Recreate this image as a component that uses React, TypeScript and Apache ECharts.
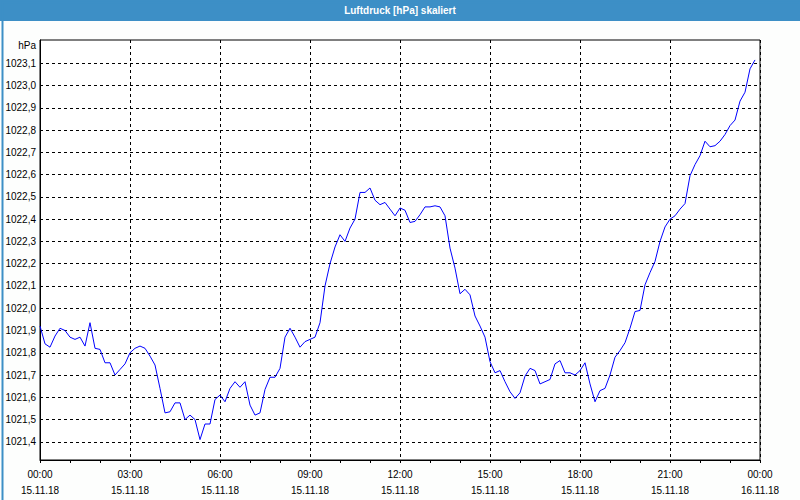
import React, { useEffect, useRef } from "react";
import * as echarts from "echarts";

const chartTitle = "Luftdruck [hPa] skaliert";
const yUnit = "hPa";
const xTimeLabels = ["00:00", "03:00", "06:00", "09:00", "12:00", "15:00", "18:00", "21:00", "00:00"];
const xDateLabels = ["15.11.18", "15.11.18", "15.11.18", "15.11.18", "15.11.18", "15.11.18", "15.11.18", "15.11.18", "16.11.18"];
const yTickValues = [1021.4, 1021.5, 1021.6, 1021.7, 1021.8, 1021.9, 1022.0, 1022.1, 1022.2, 1022.3, 1022.4, 1022.5, 1022.6, 1022.7, 1022.8, 1022.9, 1023.0, 1023.1];
const stepMinutes = 10;
// pressure readings every 10 minutes, 00:00 .. 23:50
const pressure = [
  1021.92, 1021.84, 1021.825, 1021.875, 1021.91, 1021.9,
  1021.87, 1021.86, 1021.87, 1021.83, 1021.935, 1021.82,
  1021.815, 1021.755, 1021.755, 1021.7, 1021.725, 1021.75,
  1021.8, 1021.82, 1021.83, 1021.82, 1021.785, 1021.745,
  1021.64, 1021.53, 1021.535, 1021.575, 1021.575, 1021.5,
  1021.52, 1021.5, 1021.41, 1021.48, 1021.48, 1021.59,
  1021.61, 1021.58, 1021.64, 1021.67, 1021.645, 1021.67,
  1021.565, 1021.52, 1021.53, 1021.635, 1021.69, 1021.69,
  1021.73, 1021.87, 1021.91, 1021.87, 1021.825, 1021.85,
  1021.86, 1021.87, 1021.935, 1022.1, 1022.2, 1022.275,
  1022.33, 1022.3, 1022.36, 1022.4, 1022.52, 1022.52,
  1022.54, 1022.485, 1022.465, 1022.475, 1022.445, 1022.415,
  1022.45, 1022.44, 1022.385, 1022.39, 1022.42, 1022.455,
  1022.455, 1022.46, 1022.455, 1022.415, 1022.27, 1022.18,
  1022.065, 1022.085, 1022.06, 1021.965, 1021.92, 1021.87,
  1021.76, 1021.71, 1021.72, 1021.67, 1021.625, 1021.595,
  1021.62, 1021.695, 1021.73, 1021.72, 1021.66, 1021.67,
  1021.68, 1021.75, 1021.765, 1021.71, 1021.71, 1021.7,
  1021.72, 1021.755, 1021.66, 1021.58, 1021.63, 1021.64,
  1021.7, 1021.78, 1021.81, 1021.845, 1021.91, 1021.985,
  1021.99, 1022.105, 1022.16, 1022.21, 1022.3, 1022.365,
  1022.4, 1022.415, 1022.445, 1022.47, 1022.595, 1022.645,
  1022.685, 1022.75, 1022.725, 1022.73, 1022.75, 1022.78,
  1022.82, 1022.845, 1022.93, 1022.97, 1023.075, 1023.115,
];

const FONT = "'Liberation Sans', Arial, sans-serif";
const BLUE = "#3d8fc6";
const BG = "#fdfefd";

export default function App() {
  const ref = useRef<HTMLDivElement>(null);
  useEffect(() => {
    if (!ref.current) return;
    const chart = echarts.init(ref.current, undefined, { renderer: "svg" });
    const data = pressure.map((v, i) => [i * stepMinutes, v]);
    chart.setOption({
      animation: false,
      backgroundColor: BG,
      textStyle: { fontFamily: FONT },
      grid: {
        left: 40,
        top: 40,
        right: 40,
        bottom: 40,
        show: true,
        borderColor: "#000",
        borderWidth: 1,
        backgroundColor: "#ffffff",
      },
      graphic: [
        { type: "rect", left: 0, top: 0, shape: { width: 800, height: 21 }, style: { fill: BLUE }, z: 10 },
        {
          type: "rect",
          left: 0,
          top: 0,
          shape: { x: 0.5, y: 0.5, width: 799, height: 499 },
          style: { fill: "none", stroke: BLUE, lineWidth: 2 },
          z: 10,
        },
        {
          type: "text",
          x: 400,
          y: 10.5,
          style: {
            text: chartTitle,
            fill: "#ffffff",
            font: `bold 10px ${FONT}`,
            textAlign: "center",
            textVerticalAlign: "middle",
          },
          z: 11,
        },
        {
          type: "text",
          x: 36,
          y: 45,
          style: {
            text: yUnit,
            fill: "#000",
            font: `10px ${FONT}`,
            textAlign: "right",
            textVerticalAlign: "middle",
          },
          z: 11,
        },
      ],
      xAxis: {
        type: "value",
        min: 0,
        max: 1440,
        interval: 180,
        axisLine: { show: true, lineStyle: { color: "#000", width: 1 } },
        axisTick: { show: true, length: 3, lineStyle: { color: "#000" } },
        minorTick: { show: true, splitNumber: 3, length: 3, lineStyle: { color: "#000" } },
        splitLine: { show: true, lineStyle: { color: "#000", type: [3, 3], width: 1 } },
        axisLabel: {
          margin: 6,
          color: "#000",
          fontSize: 10,
          fontFamily: FONT,
          lineHeight: 16,
          formatter: (v: number) => {
            const i = Math.round(v / 180);
            return `${xTimeLabels[i]}\n${xDateLabels[i]}`;
          },
        },
      },
      yAxis: {
        type: "value",
        min: 1021.3184,
        max: 1023.2045,
        axisLine: { show: true, lineStyle: { color: "#000", width: 1 } },
        axisTick: { show: false },
        splitLine: { show: false },
        axisLabel: {
          margin: 4,
          color: "#000",
          fontSize: 10,
          fontFamily: FONT,
          customValues: yTickValues,
          formatter: (v: number) => v.toFixed(1).replace(".", ","),
        },
      },
      series: [
        {
          type: "line",
          data,
          symbol: "none",
          lineStyle: { color: "#0000ff", width: 1 },
          z: 5,
          markLine: {
            silent: true,
            symbol: ["none", "none"],
            label: { show: false },
            lineStyle: { color: "#000", type: [3, 3], width: 1 },
            data: yTickValues.map((v) => ({ yAxis: v })),
            z: 1,
          },
        },
      ],
    });
    return () => chart.dispose();
  }, []);
  return (
    <div
      ref={ref}
      style={{ position: "fixed", left: 0, top: 0, width: 800, height: 500 }}
    />
  );
}
